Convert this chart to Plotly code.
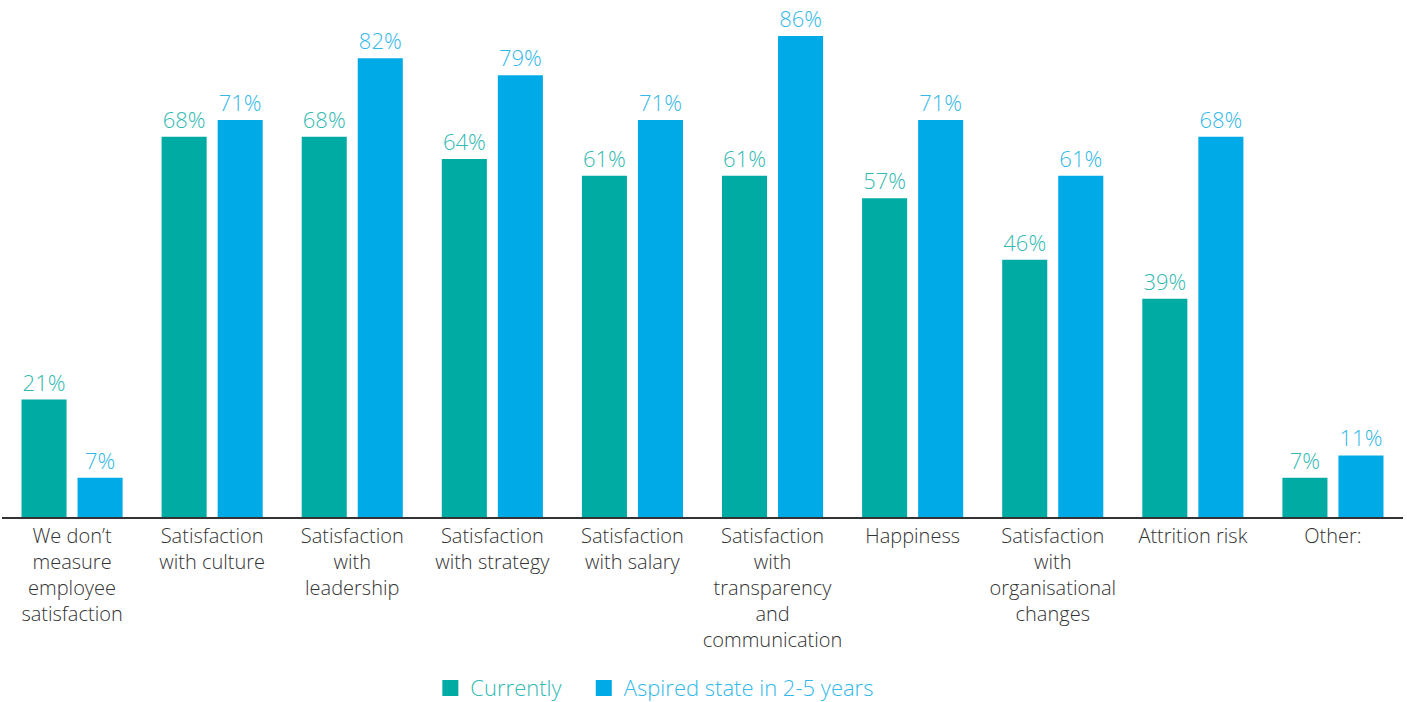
import plotly.graph_objects as go

categories = [
    "We don’t<br>measure<br>employee<br>satisfaction",
    "Satisfaction<br>with culture",
    "Satisfaction<br>with<br>leadership",
    "Satisfaction<br>with strategy",
    "Satisfaction<br>with salary",
    "Satisfaction<br>with<br>transparency<br>and<br>communication",
    "Happiness",
    "Satisfaction<br>with<br>organisational<br>changes",
    "Attrition risk",
    "Other:",
]
currently = [21, 68, 68, 64, 61, 61, 57, 46, 39, 7]
aspired = [7, 71, 82, 79, 71, 86, 71, 61, 68, 11]
series_names = ["Currently", "Aspired state in 2-5 years"]

teal = "#00ABA3"
blue = "#00AAE6"
teal_txt = "#33B9B2"
blue_txt = "#33B8EA"

fig = go.Figure()
for vals, col, tcol in [(currently, teal, teal_txt), (aspired, blue, blue_txt)]:
    fig.add_trace(go.Bar(
        x=categories, y=vals,
        marker=dict(color=col, line=dict(width=0)),
        text=[f"{v}%" for v in vals], textposition="outside",
        textfont=dict(color=tcol, size=22, family="Open Sans", weight=300),
        cliponaxis=False, showlegend=False,
    ))
# legend entries with large square markers
legend_pad = ["&nbsp;&nbsp;&nbsp;", ""]
for name, col, tcol, pad in [(series_names[0], teal, teal_txt, legend_pad[0]),
                             (series_names[1], blue, blue_txt, legend_pad[1])]:
    fig.add_trace(go.Scatter(
        x=[None], y=[None], mode="markers",
        marker=dict(symbol="square", size=18, color=col),
        name=f"<span style='color:{tcol}'>{name}</span>{pad}",
    ))

fig.update_layout(
    width=1407, height=702,
    margin=dict(l=2, r=4, t=20, b=185, autoexpand=False),
    plot_bgcolor="white", paper_bgcolor="white",
    barmode="group", bargap=0.2, bargroupgap=0.196,
    font=dict(family="Open Sans", size=20, color="#333333"),
    showlegend=True,
    legend=dict(orientation="h", x=0.466, xanchor="center", y=-0.302, yanchor="top",
                font=dict(size=22, family="Open Sans", weight=300),
                traceorder="normal", itemwidth=30, tracegroupgap=0),
)
fig.update_xaxes(showline=True, linecolor="#333333", linewidth=1.5, ticks="",
                 automargin=False,
                 tickfont=dict(size=20, color="#333333", family="Open Sans", weight=300))
fig.update_yaxes(visible=False, range=[0, 88.86], showgrid=False, automargin=False)

fig.write_html("out.html")
